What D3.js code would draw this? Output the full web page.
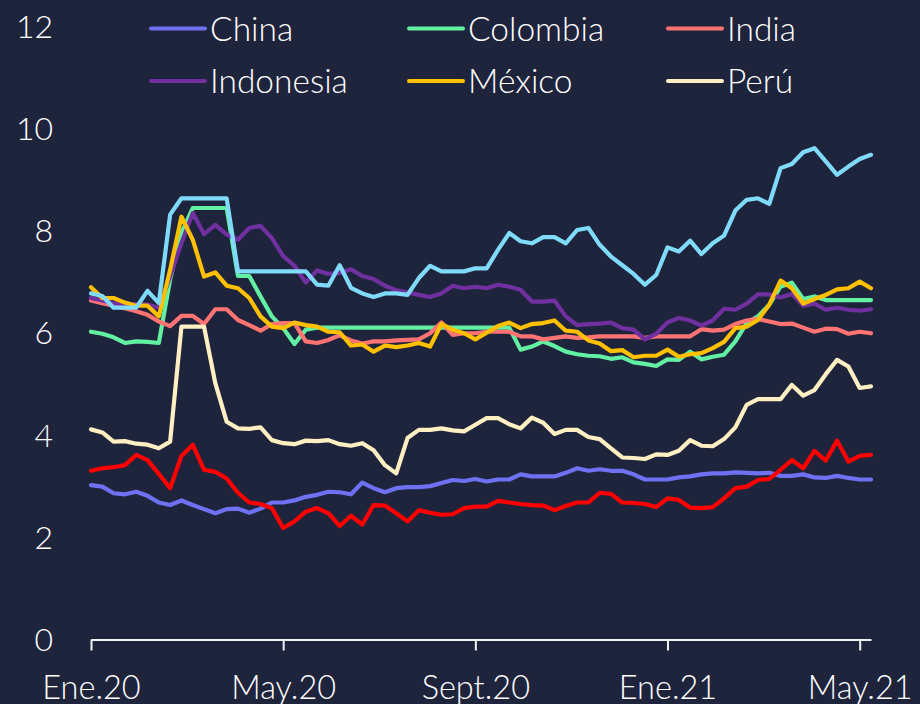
<!DOCTYPE html>
<html>
<head>
<meta charset="utf-8">
<script src="https://cdn.jsdelivr.net/npm/d3@7"></script>
<style>
  html, body { margin: 0; padding: 0; background: #1f243d; }
  text { font-family: Lato, "Open Sans", sans-serif; font-weight: 300; fill: #ffffff; }
</style>
</head>
<body>
<div id="my_dataviz"></div>
<script>
// weekly points, Ene.20 .. May.21
var tickIndex = [0, 17, 34, 51, 68];
var tickLabels = ["Ene.20", "May.20", "Sept.20", "Ene.21", "May.21"];
var yTicks = [0, 2, 4, 6, 8, 10, 12];

var china = [3.02,2.99,2.86,2.84,2.89,2.81,2.68,2.63,2.72,2.63,2.55,2.47,2.55,2.56,2.48,2.56,2.68,2.68,2.72,2.79,
  2.83,2.89,2.88,2.84,3.07,2.96,2.88,2.96,2.98,2.98,3.0,3.06,3.12,3.1,3.14,3.09,3.13,3.13,3.23,3.19,
  3.19,3.19,3.26,3.35,3.3,3.33,3.3,3.3,3.23,3.13,3.13,3.13,3.17,3.19,3.23,3.25,3.25,3.27,3.26,3.25,
  3.26,3.2,3.2,3.23,3.17,3.16,3.2,3.16,3.13,3.13];
var colombia = [6.02,5.98,5.91,5.8,5.83,5.82,5.8,7.04,7.95,8.44,8.44,8.44,8.44,7.11,7.11,6.71,6.32,6.09,5.78,6.06,
  6.1,6.1,6.1,6.1,6.1,6.1,6.1,6.1,6.1,6.1,6.1,6.1,6.1,6.1,6.1,6.1,6.1,6.1,5.67,5.73,
  5.83,5.74,5.63,5.58,5.55,5.54,5.49,5.52,5.42,5.39,5.35,5.48,5.47,5.63,5.48,5.53,5.57,5.83,6.19,6.32,
  6.55,6.9,6.98,6.66,6.71,6.64,6.64,6.64,6.64,6.64];
var india = [6.63,6.58,6.53,6.48,6.42,6.35,6.22,6.13,6.33,6.33,6.17,6.46,6.46,6.25,6.15,6.04,6.17,6.19,6.19,5.83,
  5.8,5.86,5.95,5.85,5.79,5.83,5.83,5.85,5.86,5.87,5.99,6.2,5.96,5.99,5.99,6.02,6.02,6.02,5.93,5.93,
  5.87,5.9,5.93,5.9,5.91,5.93,5.93,5.93,5.93,5.9,5.93,5.93,5.93,5.93,6.07,6.04,6.06,6.17,6.24,6.27,
  6.22,6.17,6.18,6.1,6.02,6.08,6.07,5.98,6.02,5.99];
var indonesia = [6.68,6.63,6.58,6.55,6.56,6.55,6.49,7.1,7.75,8.34,7.93,8.11,7.92,7.82,8.05,8.09,7.85,7.5,7.31,6.98,
  7.22,7.15,7.17,7.24,7.11,7.05,6.92,6.83,6.79,6.74,6.7,6.77,6.92,6.87,6.9,6.87,6.94,6.9,6.84,6.61,
  6.61,6.63,6.32,6.15,6.17,6.18,6.2,6.09,6.06,5.87,5.98,6.2,6.29,6.24,6.14,6.24,6.47,6.45,6.57,6.75,
  6.75,6.69,6.76,6.53,6.57,6.45,6.49,6.45,6.43,6.46];
var mexico = [6.89,6.68,6.68,6.59,6.53,6.53,6.32,7.23,8.27,7.82,7.1,7.18,6.92,6.87,6.68,6.32,6.12,6.09,6.2,6.15,
  6.12,6.02,6.01,5.75,5.77,5.63,5.75,5.72,5.75,5.8,5.73,6.17,6.06,5.99,5.87,6.0,6.13,6.2,6.09,6.17,
  6.19,6.24,6.04,6.02,5.85,5.79,5.64,5.66,5.52,5.55,5.55,5.67,5.53,5.58,5.6,5.7,5.82,6.09,6.12,6.25,
  6.55,7.02,6.87,6.57,6.66,6.74,6.85,6.87,7.0,6.87];
var peru = [4.11,4.05,3.87,3.88,3.83,3.81,3.74,3.87,6.12,6.12,6.12,5.01,4.26,4.13,4.12,4.15,3.9,3.84,3.82,3.89,
  3.88,3.9,3.82,3.79,3.84,3.7,3.41,3.25,3.94,4.1,4.1,4.13,4.09,4.07,4.2,4.33,4.33,4.21,4.13,4.34,
  4.24,4.02,4.1,4.1,3.96,3.92,3.74,3.56,3.55,3.53,3.62,3.61,3.69,3.9,3.79,3.78,3.92,4.15,4.59,4.7,
  4.7,4.7,4.98,4.77,4.88,5.19,5.47,5.34,4.92,4.95];
// two series without a legend entry
var serieCyan = [6.77,6.72,6.49,6.49,6.49,6.82,6.58,8.31,8.63,8.63,8.63,8.63,8.63,7.2,7.2,7.2,7.2,7.2,7.2,7.2,
  6.94,6.92,7.32,6.88,6.77,6.7,6.77,6.77,6.74,7.07,7.31,7.2,7.2,7.2,7.26,7.26,7.62,7.95,7.79,7.75,
  7.87,7.87,7.75,8.01,8.05,7.72,7.49,7.32,7.15,6.94,7.13,7.67,7.59,7.8,7.54,7.75,7.9,8.39,8.6,8.63,
  8.52,9.22,9.3,9.53,9.61,9.35,9.09,9.25,9.4,9.48];
var serieRed = [3.3,3.35,3.37,3.41,3.61,3.51,3.24,2.96,3.59,3.81,3.32,3.28,3.15,2.87,2.68,2.65,2.57,2.18,2.31,2.5,
  2.57,2.47,2.22,2.42,2.25,2.63,2.62,2.47,2.31,2.53,2.48,2.44,2.45,2.57,2.6,2.6,2.71,2.68,2.65,2.63,
  2.62,2.53,2.61,2.68,2.68,2.87,2.85,2.68,2.67,2.65,2.59,2.76,2.73,2.58,2.57,2.59,2.76,2.96,2.99,3.12,
  3.14,3.32,3.51,3.35,3.69,3.5,3.89,3.48,3.59,3.61];

var series = [
  {name: "China", values: china, color: "#6e72f2", legend: true},
  {name: "Colombia", values: colombia, color: "#62f0a2", legend: true},
  {name: "India", values: india, color: "#ff7373", legend: true},
  {name: "Indonesia", values: indonesia, color: "#7030a0", legend: true},
  {name: "México", values: mexico, color: "#ffc000", legend: true},
  {name: "Perú", values: peru, color: "#ffefc2", legend: true},
  {name: "", values: serieCyan, color: "#80dbfa", legend: false},
  {name: "", values: serieRed, color: "#ff0000", legend: false}
];

var width = 920, height = 704;

var svg = d3.select("#my_dataviz")
  .append("svg")
    .attr("width", width)
    .attr("height", height);

var x = d3.scaleLinear()
    .domain([0, china.length - 1])
    .range([91, 871]);

var y = d3.scaleLinear()
    .domain([0, 12])
    .range([639.5, 26]);

// y labels, no axis line
svg.append("g")
  .selectAll("text")
  .data(yTicks)
  .enter()
  .append("text")
    .attr("x", 53)
    .attr("y", function(d) { return y(d); })
    .attr("dy", "0.36em")
    .attr("text-anchor", "end")
    .style("font-size", "32px")
    .text(function(d) { return d; });

// lines
var line = d3.line()
    .x(function(d, i) { return x(i); })
    .y(function(d) { return y(d); });

svg.append("g")
  .selectAll("path")
  .data(series)
  .enter()
  .append("path")
    .attr("fill", "none")
    .attr("stroke", function(d) { return d.color; })
    .attr("stroke-width", 4.2)
    .attr("stroke-linejoin", "round")
    .attr("stroke-linecap", "round")
    .attr("d", function(d) { return line(d.values); });

// x axis
var xAxis = svg.append("g")
    .attr("transform", "translate(0," + y(0) + ")")
    .call(d3.axisBottom(x)
      .tickValues(tickIndex)
      .tickFormat(function(d, i) { return tickLabels[i]; })
      .tickSize(11)
      .tickSizeOuter(0));

xAxis.select(".domain").attr("stroke", "#f2f2f5").attr("stroke-width", 2.2);
xAxis.selectAll(".tick line").attr("stroke", "#f2f2f5").attr("stroke-width", 2);
xAxis.selectAll(".tick text")
    .attr("y", 0)
    .attr("dy", 0)
    .attr("transform", "translate(0,59)")
    .style("font-size", "32.5px")
    .style("font-family", "Lato, 'Open Sans', sans-serif")
    .style("font-weight", 300)
    .attr("fill", "#ffffff");

// legend, 3 columns x 2 rows
var legendData = series.filter(function(d) { return d.legend; });
var colX = [151, 409, 668];
var rowY = [28.5, 81];

var leg = svg.append("g")
  .selectAll("g")
  .data(legendData)
  .enter()
  .append("g")
    .attr("transform", function(d, i) { return "translate(" + colX[i % 3] + "," + rowY[Math.floor(i / 3)] + ")"; });

leg.append("line")
    .attr("x1", 0)
    .attr("x2", 54)
    .attr("stroke", function(d) { return d.color; })
    .attr("stroke-width", 4)
    .attr("stroke-linecap", "round");

leg.append("text")
    .attr("x", 59)
    .attr("dy", "0.36em")
    .style("font-size", "33.5px")
    .text(function(d) { return d.name; });
</script>
</body>
</html>
